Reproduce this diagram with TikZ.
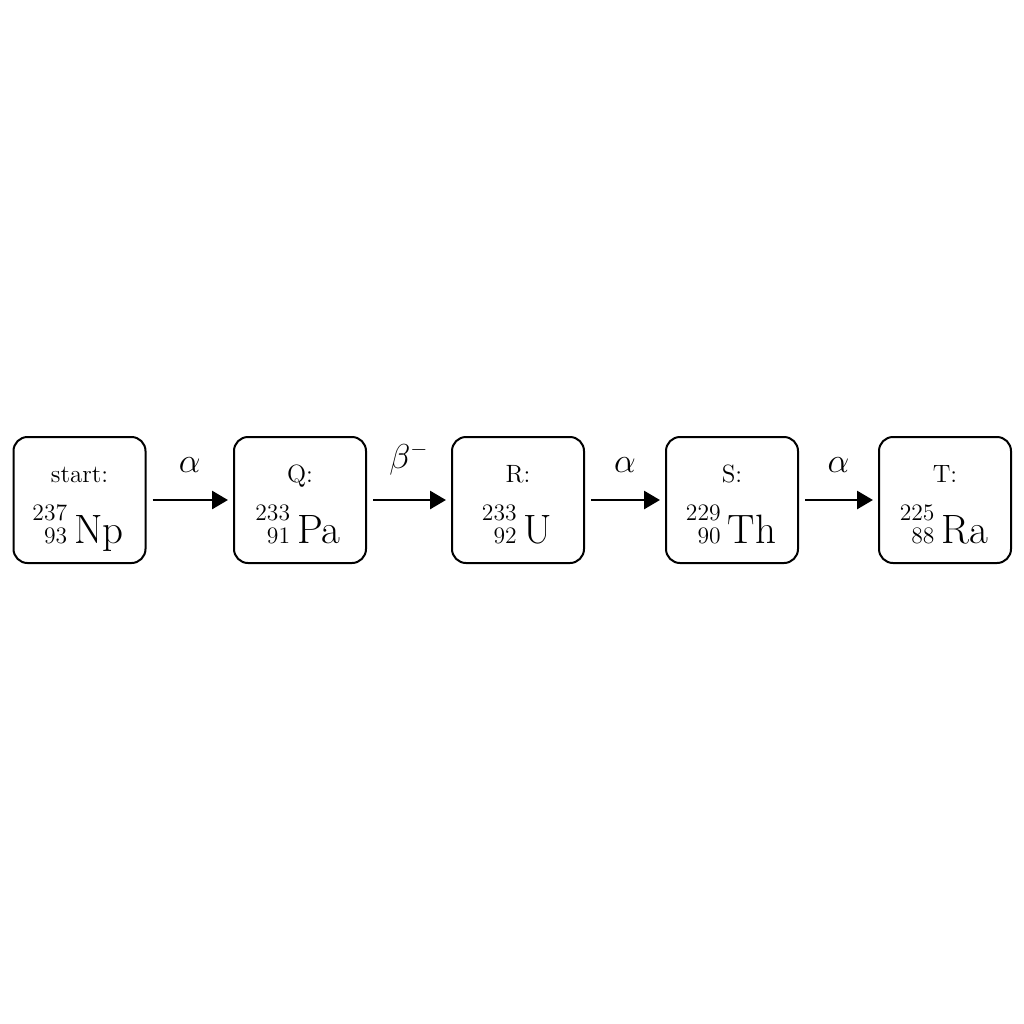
\documentclass[tikz,border=0pt]{standalone}
\usetikzlibrary{arrows.meta}
\newcommand{\nucl}[3]{{\fontsize{11.8}{11}\selectfont\begin{tabular}[b]{@{}r@{}}#1\\#2\end{tabular}}\hspace{3.5pt}{\fontsize{20.5}{23}\selectfont #3}}
\tikzset{
  box/.style={draw, line width=1pt, rounded corners=7pt, minimum width=66pt, minimum height=63pt, inner sep=0pt},
  lbl/.style={anchor=base, inner sep=0pt, font=\fontsize{12.5}{14}\selectfont},
  nuc/.style={anchor=base, inner sep=0pt},
  arr/.style={line width=1.4pt, -{Triangle[length=8pt,width=9pt]}, shorten <=3pt, shorten >=2.5pt},
  dec/.style={inner sep=0pt, font=\fontsize{16}{18}\selectfont}
}
\begin{document}
\begin{tikzpicture}[x=0.5pt,y=-0.5pt]
\useasboundingbox (0,0) rectangle (1024,1024);
\node[box] (b1) at (79.5,500) {};
\node[box] (b2) at (300,500) {};
\node[box] (b3) at (518,500) {};
\node[box] (b4) at (732,500) {};
\node[box] (b5) at (945,500) {};
\node[lbl] (l1) at (79.5,482) {start:};
\node[lbl] (l2) at (300,482) {Q:};
\node[lbl] (l3) at (518,482) {R:};
\node[lbl] (l4) at (732,482) {S:};
\node[lbl] (l5) at (945,482) {T:};
\node[nuc] (n1) at (78,543) {\nucl{237}{93}{Np}};
\node[nuc] (n2) at (298,543) {\nucl{233}{91}{Pa}};
\node[nuc] (n3) at (517,543) {\nucl{233}{92}{U}};
\node[nuc] (n4) at (731,543) {\nucl{229}{90}{Th}};
\node[nuc] (n5) at (944,543) {\nucl{225}{88}{Ra}};
\draw[arr] (b1) -- node[dec, yshift=17.5pt] (d1) {$\alpha$} (b2);
\draw[arr] (b2) -- node[dec, yshift=20.5pt] (d2) {$\beta^-$} (b3);
\draw[arr] (b3) -- node[dec, yshift=17.5pt] (d3) {$\alpha$} (b4);
\draw[arr] (b4) -- node[dec, yshift=17.5pt] (d4) {$\alpha$} (b5);
\end{tikzpicture}
\end{document}
